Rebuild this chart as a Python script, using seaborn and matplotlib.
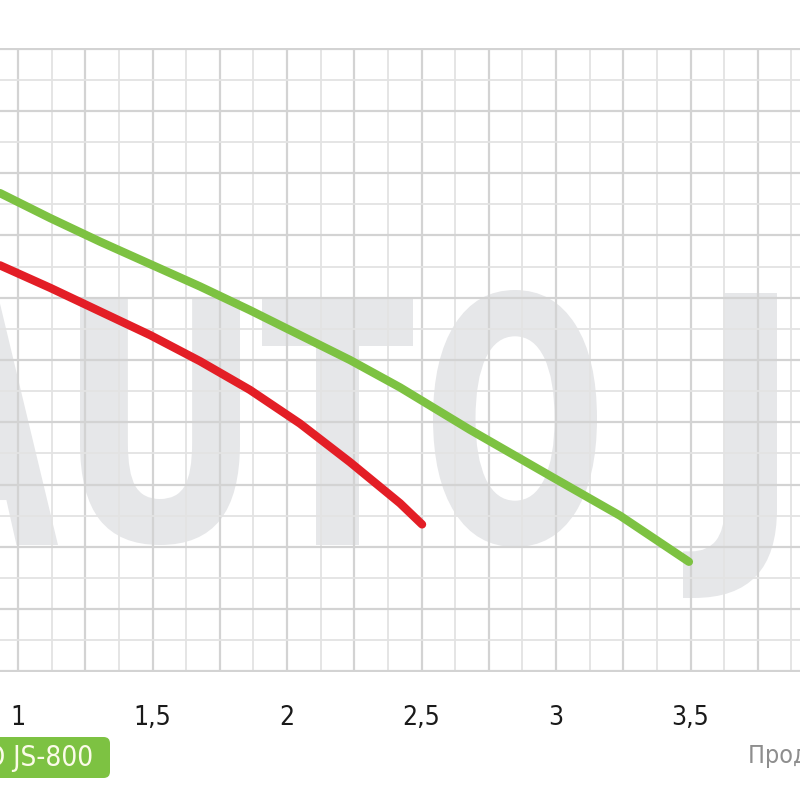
import numpy as np
import pandas as pd
import matplotlib
matplotlib.use("Agg")
import matplotlib.pyplot as plt
import seaborn as sns
from matplotlib.ticker import MultipleLocator, FuncFormatter
from matplotlib.textpath import TextPath
from matplotlib.patches import PathPatch, FancyBboxPatch
from matplotlib.font_manager import FontProperties, fontManager
from matplotlib.transforms import Affine2D

# ---- data (flow m3/h, head m) ----
green_flow = [0.933, 1.119, 1.305, 1.491, 1.677, 1.862, 2.048, 2.234, 2.420, 2.680, 2.978, 3.238, 3.494]
green_head = [38.4, 36.4, 34.5, 32.7, 30.9, 29.0, 27.0, 25.0, 22.8, 19.4, 15.7, 12.5, 8.8]
red_flow = [0.933, 1.119, 1.305, 1.491, 1.677, 1.862, 2.048, 2.234, 2.420, 2.502]
red_head = [32.6, 30.8, 28.9, 27.0, 24.9, 22.6, 19.9, 16.8, 13.5, 11.8]
x_ticks = [1.0, 1.5, 2.0, 2.5, 3.0, 3.5]
model_label = "AUTO JS-800"
x_title = "Продуктивність, м³/год"

GREEN = "#7dc242"
RED = "#e31e26"

sns.set_style("white")
cond_fp = None
for f in fontManager.ttflist:
    fn = f.fname.lower()
    if ("condensed" in fn or "narrow" in fn) and "bold" not in fn and "oblique" not in fn and "italic" not in fn:
        cond_fp = FontProperties(fname=f.fname)
        break
if cond_fp is None:
    cond_fp = FontProperties(family="DejaVu Sans")

fig = plt.figure(figsize=(8, 8), dpi=100)
ax = fig.add_axes([0, 0.16, 1, 0.78])

df = pd.concat([
    pd.DataFrame({"flow": green_flow, "head": green_head, "model": "green"}),
    pd.DataFrame({"flow": red_flow, "head": red_head, "model": "red"}),
])
sns.lineplot(data=df, x="flow", y="head", hue="model", palette={"green": GREEN, "red": RED},
             linewidth=6, legend=False, ax=ax, sort=False, zorder=3,
             solid_capstyle="round", solid_joinstyle="round")

ax.set_xlim(0.933, 3.907)
ax.set_ylim(-0.05, 50.05)
ax.xaxis.set_major_locator(MultipleLocator(0.25))
ax.xaxis.set_minor_locator(MultipleLocator(0.125))
ax.yaxis.set_major_locator(MultipleLocator(5))
ax.yaxis.set_minor_locator(MultipleLocator(2.5))
ax.xaxis.set_major_formatter(FuncFormatter(
    lambda v, p: ("%g" % v).replace(".", ",") if any(abs(v - t) < 1e-6 for t in x_ticks) else ""))
ax.yaxis.set_major_formatter(FuncFormatter(lambda v, p: ""))
ax.set_axisbelow(True)
ax.grid(which="major", color="#d3d3d3", linewidth=1.6)
ax.grid(which="minor", color="#e3e3e3", linewidth=1.3)
ax.tick_params(which="both", length=0)
ax.tick_params(axis="x", pad=24, labelcolor="#1a1a1a")
for lab in ax.get_xticklabels():
    lab.set_fontproperties(cond_fp)
    lab.set_fontsize(19)
for s in ax.spines.values():
    s.set_visible(False)
ax.set_xlabel("")
ax.set_ylabel("")

# watermark letters, placed in figure pixel boxes (left, right, top, bottom)
fp = FontProperties(family="DejaVu Sans", weight="bold")
letters = [("A", -110, 58, 298, 545), ("U", 80, 240, 298, 545), ("T", 262, 413, 298, 545),
           ("O", 433, 597, 290, 547), ("J", 683, 777, 293, 598)]
for ch, l, r, t, b in letters:
    tp = TextPath((0, 0), ch, size=100, prop=fp)
    bb = tp.get_extents()
    tr = (Affine2D().translate(-bb.x0, -bb.y0)
          .scale((r - l) / bb.width / 800, (b - t) / bb.height / 800)
          .translate(l / 800, 1 - b / 800)) + fig.transFigure
    patch = PathPatch(tp, transform=tr, facecolor="#e6e7e9", edgecolor="none", zorder=0.2)
    ax.add_patch(patch)

# model label box
box = FancyBboxPatch((-20 / 800, 22 / 800), 130 / 800, 41 / 800,
                     boxstyle="round,pad=0,rounding_size=0.008",
                     transform=fig.transFigure, facecolor=GREEN, edgecolor="none")
fig.patches.append(box)
t1 = fig.text(93 / 800, 42 / 800, model_label, ha="right", va="center", color="#fbfbe8",
              fontproperties=cond_fp)
t1.set_fontsize(20)
t2 = fig.text(748 / 800, 44 / 800, x_title, ha="left", va="center", color="#8e8e8e",
              fontproperties=cond_fp)
t2.set_fontsize(18)

fig.savefig("out.png", dpi=100)
